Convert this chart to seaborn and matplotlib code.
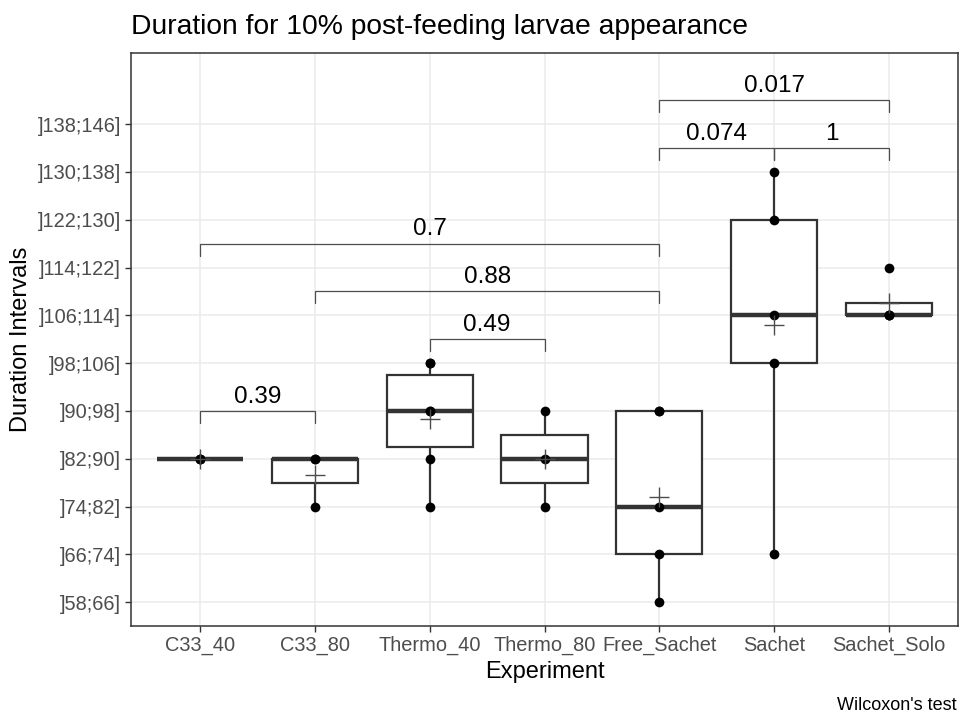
import numpy as np
import pandas as pd
import matplotlib
matplotlib.use("Agg")
import matplotlib.pyplot as plt
import seaborn as sns

# ---- data ----
interval_labels = ["]58;66]", "]66;74]", "]74;82]", "]82;90]", "]90;98]", "]98;106]",
                   "]106;114]", "]114;122]", "]122;130]", "]130;138]", "]138;146]"]
experiments = ["C33_40", "C33_80", "Thermo_40", "Thermo_80", "Free_Sachet", "Sachet", "Sachet_Solo"]

c33_40 = ["]82;90]", "]82;90]", "]82;90]"]
c33_80 = ["]74;82]", "]82;90]", "]82;90]"]
thermo_40 = ["]74;82]", "]82;90]", "]90;98]", "]90;98]", "]98;106]", "]98;106]"]
thermo_80 = ["]74;82]", "]82;90]", "]90;98]"]
free_sachet = ["]58;66]", "]66;74]", "]74;82]", "]90;98]", "]90;98]"]
sachet = ["]66;74]", "]98;106]", "]106;114]", "]122;130]", "]130;138]"]
sachet_solo = ["]106;114]", "]106;114]", "]106;114]", "]114;122]"]

# pairwise comparisons: (group1, group2, bracket level, p label)
comp_g1 = ["C33_40", "Thermo_40", "C33_80", "C33_40", "Free_Sachet", "Sachet", "Free_Sachet"]
comp_g2 = ["C33_80", "Thermo_80", "Free_Sachet", "Free_Sachet", "Sachet", "Sachet_Solo", "Sachet_Solo"]
comp_y = [5.0, 6.5, 7.5, 8.5, 10.5, 10.5, 11.5]
comp_p = ["0.39", "0.49", "0.88", "0.7", "0.074", "1", "0.017"]

groups = [c33_40, c33_80, thermo_40, thermo_80, free_sachet, sachet, sachet_solo]
rows = []
for name, vals in zip(experiments, groups):
    for v in vals:
        rows.append({"Experiment": name, "Level": interval_labels.index(v) + 1})
df = pd.DataFrame(rows)

# ---- style ----
sns.set_theme(style="whitegrid")
plt.rcParams["font.family"] = ["Liberation Sans", "DejaVu Sans"]

fig = plt.figure(figsize=(9.61, 7.13), dpi=100)
ax = fig.add_axes([131 / 961, 1 - 626 / 713, (958 - 131) / 961, (626 - 53) / 713])

dark = "#333333"
sns.boxplot(data=df, x="Experiment", y="Level", order=experiments, ax=ax,
            width=0.75, color="white", linecolor=dark, linewidth=1.6,
            showfliers=False, whis=1.5,
            medianprops={"linewidth": 3.2, "color": dark},
            whiskerprops={"linewidth": 1.6, "color": dark},
            capprops={"linewidth": 0}, zorder=2)
sns.stripplot(data=df, x="Experiment", y="Level", order=experiments, ax=ax,
              jitter=False, color="black", size=7, linewidth=0, zorder=4)
sns.pointplot(data=df, x="Experiment", y="Level", order=experiments, ax=ax,
              estimator="mean", errorbar=None, linestyles="none", markers="+",
              color="#4D4D4D", markersize=14, markeredgewidth=1.0, zorder=5)

# brackets
tip = 0.25
for g1, g2, yv, p in zip(comp_g1, comp_g2, comp_y, comp_p):
    x1, x2 = experiments.index(g1), experiments.index(g2)
    ax.plot([x1, x1, x2, x2], [yv - tip, yv, yv, yv - tip], color="#4D4D4D",
            linewidth=0.9, zorder=3, solid_joinstyle="miter")
    ax.text((x1 + x2) / 2, yv + 0.07, p, ha="center", va="bottom",
            fontsize=17.5, color="black")

ax.set_xlim(-0.6, len(experiments) - 0.4)
ax.set_ylim(0.5, 12.49)
ax.set_yticks(range(1, len(interval_labels) + 1))
ax.set_yticklabels(interval_labels)

ax.grid(True, color="#EBEBEB", linewidth=1.1)
ax.set_axisbelow(True)
for s in ax.spines.values():
    s.set_color(dark)
    s.set_linewidth(1.1)
    s.set_visible(True)
ax.tick_params(axis="both", which="both", length=4, width=1.0, color=dark,
               labelsize=14.4, labelcolor="#4D4D4D", pad=3,
               bottom=True, left=True)

ax.set_xlabel("Experiment", fontsize=17, color="black", labelpad=4)
ax.set_ylabel("Duration Intervals", fontsize=17, color="black", labelpad=4)

fig.text(131 / 961, 1 - 27 / 713, "Duration for 10% post-feeding larvae appearance",
         ha="left", va="center", fontsize=20.3, color="black")
fig.text(957 / 961, 1 - 705 / 713, "Wilcoxon's test", ha="right", va="center",
         fontsize=13, color="black")

fig.savefig("out.png", dpi=100)
